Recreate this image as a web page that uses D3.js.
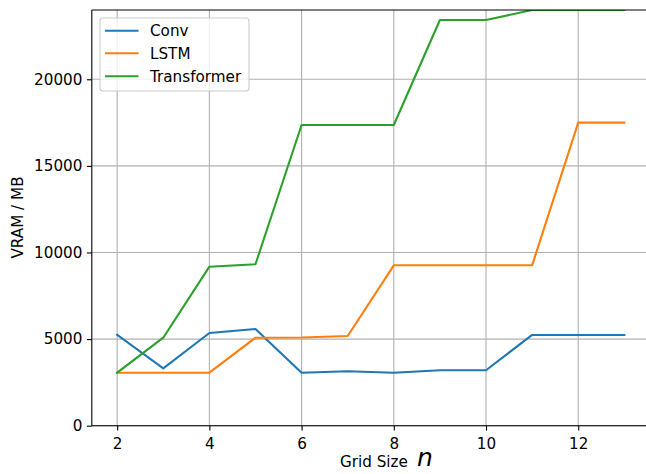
<!DOCTYPE html>
<html>
<head>
<meta charset="utf-8">
<script src="https://cdn.jsdelivr.net/npm/d3@7"></script>
<style>
  html, body { margin: 0; padding: 0; background: #fff; }
  svg { display: block; }
  text { font-family: "DejaVu Sans", sans-serif; fill: #000; }
</style>
</head>
<body>
<svg id="chart" width="646" height="474"></svg>
<script>
const gridSizes = [2, 3, 4, 5, 6, 7, 8, 9, 10, 11, 12, 13];
const seriesNames = ["Conv", "LSTM", "Transformer"];
const convValues = [5250, 3310, 5350, 5580, 3060, 3140, 3060, 3200, 3200, 5240, 5240, 5240];
const lstmValues = [3060, 3060, 3060, 5080, 5090, 5180, 9260, 9260, 9260, 9260, 17500, 17500];
const transformerValues = [3060, 5080, 9180, 9320, 17360, 17360, 17360, 23420, 23420, 24000, 24000, 24000];
const seriesColors = ["#1f77b4", "#ff7f0e", "#2ca02c"];
const xTicks = [2, 4, 6, 8, 10, 12];
const yTicks = [0, 5000, 10000, 15000, 20000];

(function () {
const svg = d3.select("#chart");
const mL = 91.8, mR = 649.7, mT = 10, mB = 425.7;

const x = d3.scaleLinear().domain([1.45, 13.55]).range([mL, mR]);
const y = d3.scaleLinear().domain([0, 24000]).range([mB, mT]);

svg.append("defs").append("clipPath").attr("id", "clip")
  .append("rect").attr("x", mL).attr("y", mT).attr("width", mR - mL).attr("height", mB - mT);

// grid
const grid = svg.append("g");
grid.selectAll("line.gx").data(xTicks).join("line")
  .attr("x1", d => x(d)).attr("x2", d => x(d)).attr("y1", mT).attr("y2", mB)
  .attr("stroke", "#b0b0b0").attr("stroke-width", 1.1);
grid.selectAll("line.gy").data(yTicks).join("line")
  .attr("y1", d => y(d)).attr("y2", d => y(d)).attr("x1", mL).attr("x2", mR)
  .attr("stroke", "#b0b0b0").attr("stroke-width", 1.1);

// lines
const allSeries = [convValues, lstmValues, transformerValues];
const line = d3.line().x((d, i) => x(gridSizes[i])).y(d => y(d));
const lines = svg.append("g").attr("clip-path", "url(#clip)");
allSeries.forEach((vals, k) => {
  lines.append("path").datum(vals).attr("d", line)
    .attr("fill", "none").attr("stroke", seriesColors[k]).attr("stroke-width", 2.1)
    .attr("stroke-linejoin", "round").attr("stroke-linecap", "square");
});

// axes
const xAxis = d3.axisBottom(x).tickValues(xTicks).tickSize(4.9).tickPadding(4.5).tickFormat(d3.format("d"));
const gx = svg.append("g").attr("transform", `translate(0,${mB})`).call(xAxis);
const yAxis = d3.axisLeft(y).tickValues(yTicks).tickSize(4.9).tickPadding(4.5).tickFormat(d3.format("d"));
const gy = svg.append("g").attr("transform", `translate(${mL},0)`).call(yAxis);
[gx, gy].forEach(g => {
  g.select(".domain").remove();
  g.selectAll(".tick line").attr("stroke", "#000").attr("stroke-width", 1.1);
  g.selectAll(".tick text").attr("font-family", "DejaVu Sans").attr("font-size", 15.2).attr("fill", "#000");
});
gx.selectAll(".tick text").attr("dy", "0.9em");

// spines
[[mL, mL, mT, mB], [mL, mR, mB, mB], [mL, mR, mT, mT], [mR, mR, mT, mB]].forEach(s => {
  svg.append("line").attr("x1", s[0]).attr("x2", s[1]).attr("y1", s[2]).attr("y2", s[3])
    .attr("stroke", "#000").attr("stroke-width", 1.1);
});

// axis labels
svg.append("text").attr("transform", "translate(23,217.5) rotate(-90)")
  .attr("text-anchor", "middle").attr("font-size", 15.2).text("VRAM / MB");
svg.append("text").attr("x", 340).attr("y", 467).attr("font-size", 15.2).text("Grid Size");
svg.append("text").attr("x", 417).attr("y", 466)
  .attr("font-family", "DejaVu Serif").attr("font-style", "italic")
  .attr("font-size", 25).text("n");

// legend
const lg = svg.append("g");
lg.append("rect").attr("x", 100).attr("y", 18).attr("width", 149).attr("height", 73)
  .attr("rx", 3).attr("fill", "#fff").attr("fill-opacity", 0.8)
  .attr("stroke", "#cccccc").attr("stroke-width", 1.1);
const rowY = [30.7, 53.2, 76.3];
seriesNames.forEach((name, k) => {
  lg.append("line").attr("x1", 105).attr("x2", 138.5).attr("y1", rowY[k]).attr("y2", rowY[k])
    .attr("stroke", seriesColors[k]).attr("stroke-width", 2.1);
  lg.append("text").attr("x", 150).attr("y", rowY[k]).attr("dy", "0.35em")
    .attr("font-size", 15.2).text(name);
});
})();
</script>
</body>
</html>
